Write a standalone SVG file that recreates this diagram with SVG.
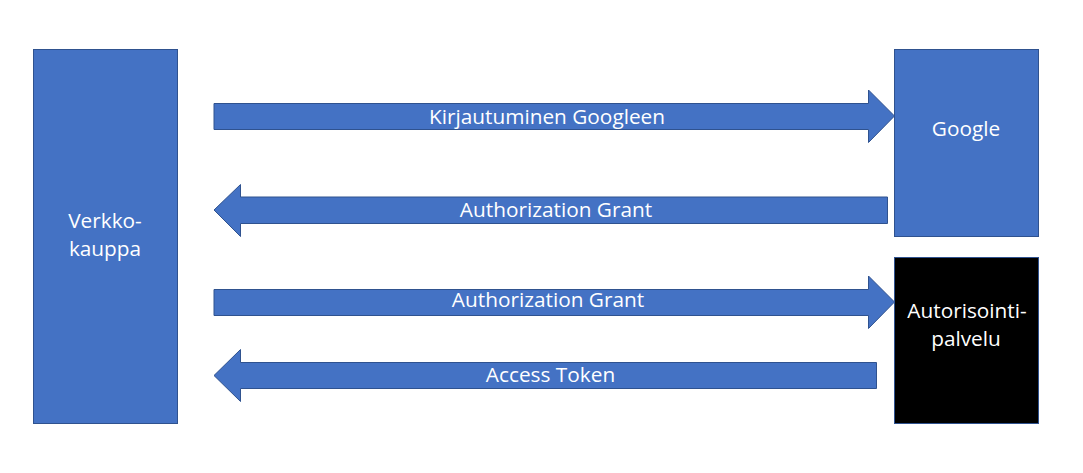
<svg xmlns="http://www.w3.org/2000/svg" width="1083" height="473" viewBox="0 0 1083 473">
<style>
.box{fill:#4472C4;stroke:#2F528F;stroke-width:1}
.dark{fill:#000000;stroke:#2F528F;stroke-width:1}
.arr{fill:#4472C4;stroke:#2F528F;stroke-width:1}
.t{font-family:"Open Sans","Noto Sans","DejaVu Sans",sans-serif;font-size:20.8px;fill:#ffffff;text-anchor:middle}
</style>
<rect width="1083" height="473" fill="#ffffff"/>
<g id="verkkokauppa">
<rect class="box" x="33.5" y="49.5" width="144" height="374"/>
<text class="t" x="105" y="228">Verkko-</text>
<text class="t" x="105" y="256">kauppa</text>
</g>
<g id="google">
<rect class="box" x="894.5" y="49.5" width="144" height="187"/>
<text class="t" x="966" y="136">Google</text>
</g>
<g id="autorisointipalvelu">
<rect class="dark" x="894.5" y="257.5" width="144" height="166"/>
<text class="t" x="967" y="318">Autorisointi-</text>
<text class="t" x="966" y="346">palvelu</text>
</g>
<g id="connectors">
<g id="a1">
<polygon class="arr" points="214,103.5 868.5,103.5 868.5,90 894.5,116 868.5,142.5 868.5,129.5 214,129.5"/>
<text class="t" x="547" y="124">Kirjautuminen Googleen</text>
</g>
<g id="a2">
<polygon class="arr" points="887.5,197 240.5,197 240.5,184.5 214,210 240.5,236.5 240.5,223.5 887.5,223.5"/>
<text class="t" x="556" y="217">Authorization Grant</text>
</g>
<g id="a3">
<polygon class="arr" points="214,289.5 868.5,289.5 868.5,276 894.5,302 868.5,328.5 868.5,315.5 214,315.5"/>
<text class="t" x="548" y="307">Authorization Grant</text>
</g>
<g id="a4">
<polygon class="arr" points="876.5,362.5 240.5,362.5 240.5,349.5 214,375.5 240.5,401.5 240.5,388.5 876.5,388.5"/>
<text class="t" x="550.5" y="382">Access Token</text>
</g>
</g>
</svg>
